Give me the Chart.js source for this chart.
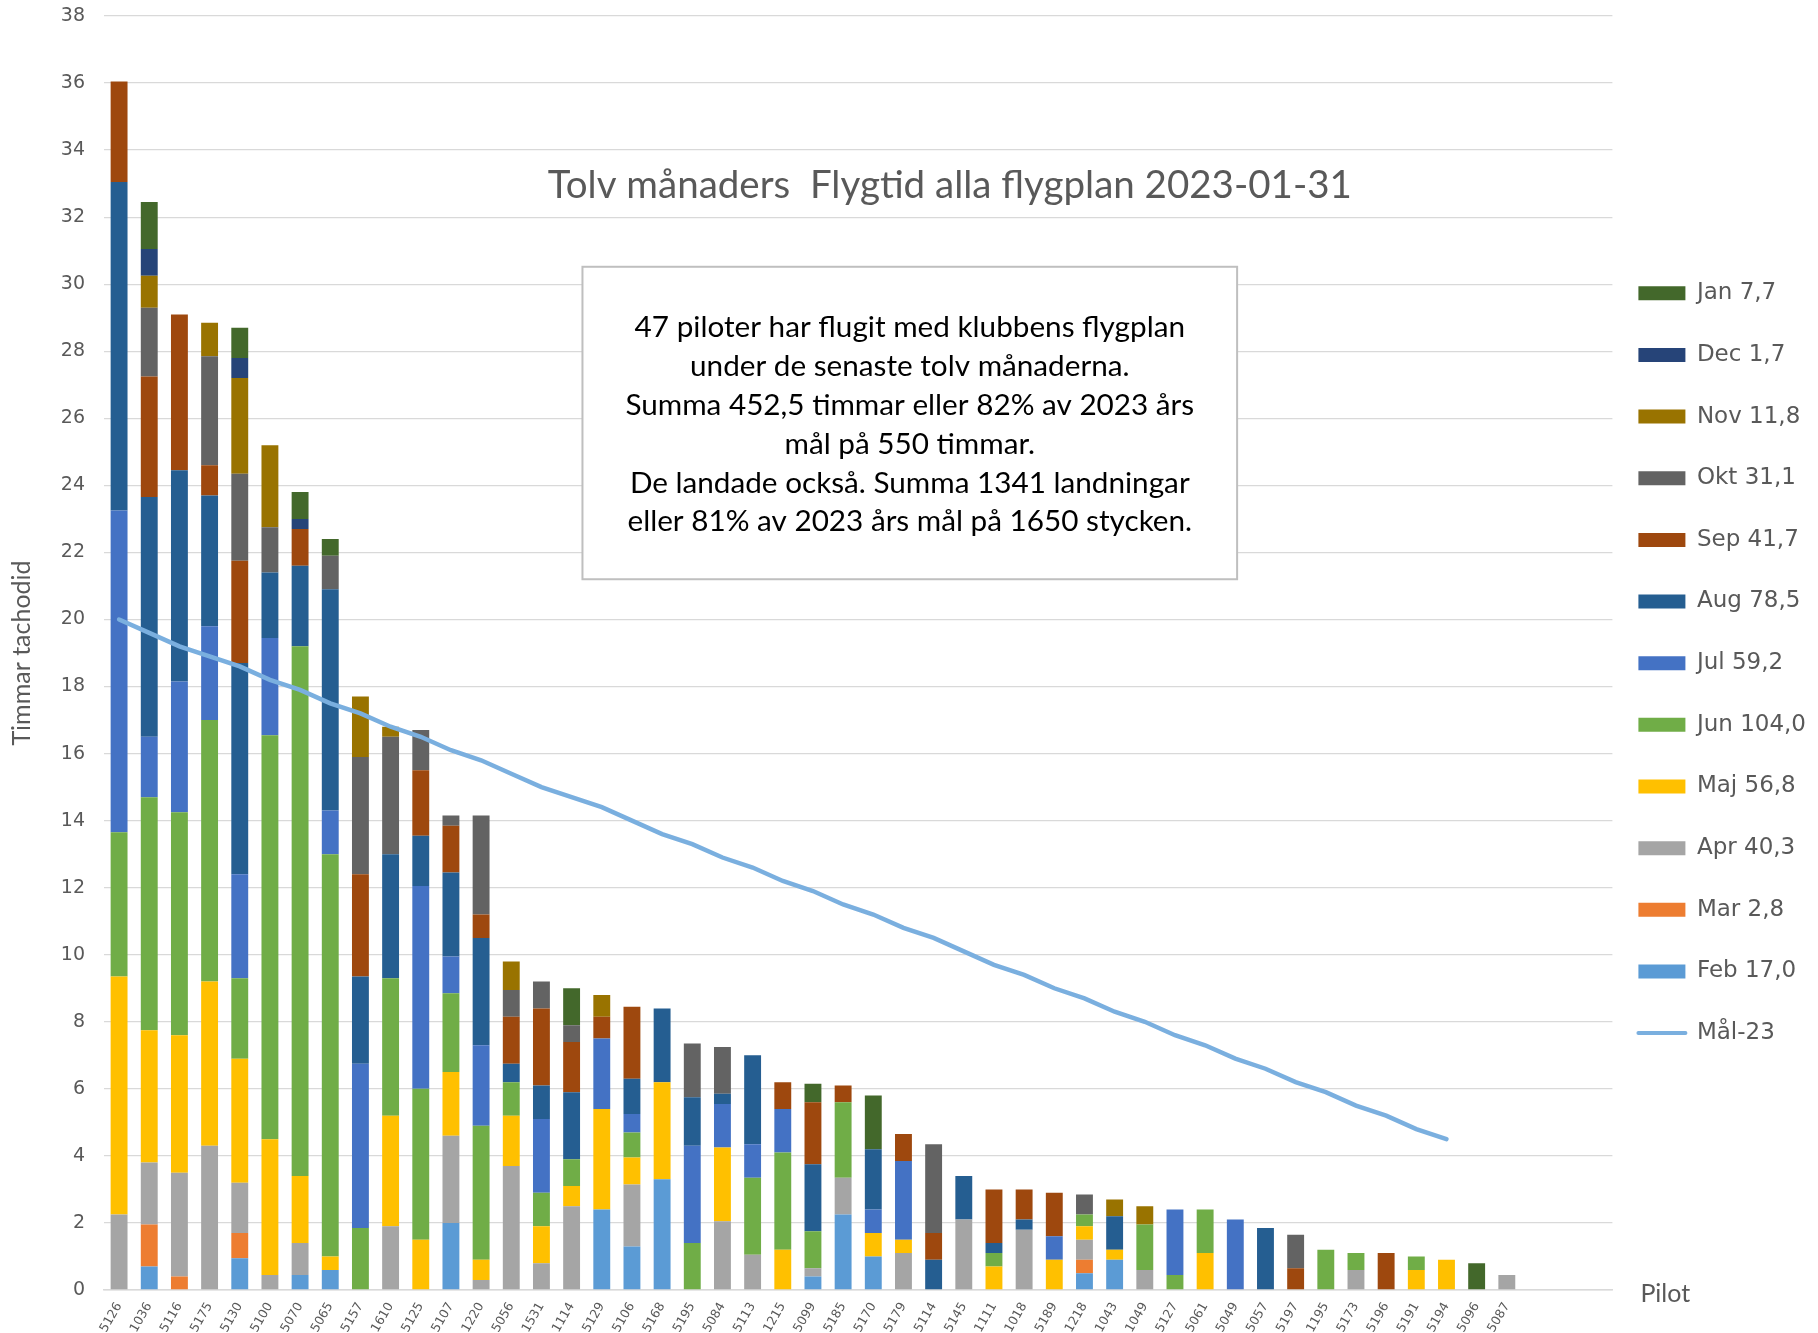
<!DOCTYPE html>
<html>
<head>
<meta charset="utf-8">
<script src="https://cdn.jsdelivr.net/npm/chart.js@4.4.1/dist/chart.umd.min.js"></script>
<style>
  body { margin: 0; background: #fff; }
  #wrap { width: 1818px; height: 1333px; }
</style>
</head>
<body>
<div id="wrap"><canvas id="flygtid"></canvas></div>
<script>
// pilots sorted by total hours, last three rows are empty in the sheet
const pilots = ['5126', '1036', '5116', '5175', '5130', '5100', '5070', '5065', '5157', '1610',
	'5125', '5107', '1220', '5056', '1531', '1114', '5129', '5106', '5168', '5195',
	'5084', '5113', '1215', '5099', '5185', '5170', '5179', '5114', '5145', '1111',
	'1018', '5189', '1218', '1043', '1049', '5127', '5061', '5049', '5057', '5197',
	'1195', '5173', '5196', '5191', '5194', '5096', '5087', '', '', ''];

const monthLabels = ['Feb 17,0', 'Mar 2,8', 'Apr 40,3', 'Maj 56,8', 'Jun 104,0', 'Jul 59,2',
	'Aug 78,5', 'Sep 41,7', 'Okt 31,1', 'Nov 11,8', 'Dec 1,7', 'Jan 7,7'];

// hours per pilot and month (tachometer)
const feb = [0, 0.7, 0, 0, 0.95, 0, 0.45, 0.6, 0, 0, 0, 2.0, 0, 0, 0, 0, 2.4, 1.3, 3.3, 0,
	0, 0, 0, 0.4, 2.25, 1.0, 0, 0, 0, 0, 0, 0, 0.5, 0.9, 0, 0, 0, 0, 0, 0, 0, 0, 0, 0, 0, 0, 0];
const mar = [0, 1.25, 0.4, 0, 0.75, 0, 0, 0, 0, 0, 0, 0, 0, 0, 0, 0, 0, 0, 0, 0,
	0, 0, 0, 0, 0, 0, 0, 0, 0, 0, 0, 0, 0.4, 0, 0, 0, 0, 0, 0, 0, 0, 0, 0, 0, 0, 0, 0];
const apr = [2.25, 1.85, 3.1, 4.3, 1.5, 0.45, 0.95, 0, 0, 1.9, 0, 2.6, 0.3, 3.7, 0.8, 2.5, 0, 1.85, 0, 0,
	2.05, 1.05, 0, 0.25, 1.1, 0, 1.1, 0, 2.1, 0, 1.8, 0, 0.6, 0, 0.6, 0, 0, 0, 0, 0, 0, 0.6, 0, 0, 0, 0, 0.45];
const maj = [7.1, 3.95, 4.1, 4.9, 3.7, 4.05, 2.0, 0.4, 0, 3.3, 1.5, 1.9, 0.6, 1.5, 1.1, 0.6, 3.0, 0.8, 2.9, 0,
	2.2, 0, 1.2, 0, 0, 0.7, 0.4, 0, 0, 0.7, 0, 0.9, 0.4, 0.3, 0, 0, 1.1, 0, 0, 0, 0, 0, 0, 0.6, 0.9, 0, 0];
const jun = [4.3, 6.95, 6.65, 7.8, 2.4, 12.05, 15.8, 12.0, 1.85, 4.1, 4.5, 2.35, 4.0, 1.0, 1.0, 0.8, 0, 0.75, 0, 1.4,
	0, 2.3, 2.9, 1.1, 2.25, 0, 0, 0, 0, 0.4, 0, 0, 0.35, 0, 1.35, 0.45, 1.3, 0, 0, 0, 1.2, 0.5, 0, 0.4, 0, 0, 0];
const jul = [9.6, 1.8, 3.9, 2.8, 3.1, 2.9, 0, 1.3, 4.9, 0, 6.05, 1.1, 2.4, 0, 2.2, 0, 2.1, 0.55, 0, 2.9,
	1.3, 1.0, 1.3, 0, 0, 0.7, 2.35, 0, 0, 0, 0, 0.7, 0, 0, 0, 1.95, 0, 2.1, 0, 0, 0, 0, 0, 0, 0, 0, 0];
const aug = [9.8, 7.15, 6.3, 3.9, 6.3, 1.95, 2.4, 6.6, 2.6, 3.7, 1.5, 2.5, 3.2, 0.55, 1.0, 2.0, 0, 1.05, 2.2, 1.45,
	0.3, 2.65, 0, 2.0, 0, 1.8, 0, 0.9, 1.3, 0.3, 0.3, 0, 0, 1.0, 0, 0, 0, 0, 1.85, 0, 0, 0, 0, 0, 0, 0, 0];
const sep = [3.0, 3.6, 4.65, 0.9, 3.05, 0, 1.1, 0, 3.05, 0, 1.95, 1.4, 0.7, 1.4, 2.3, 1.5, 0.65, 2.15, 0, 0,
	0, 0, 0.8, 1.85, 0.5, 0, 0.8, 0.8, 0, 1.6, 0.9, 1.3, 0, 0, 0, 0, 0, 0, 0, 0.65, 0, 0, 1.1, 0, 0, 0, 0];
const okt = [0, 2.05, 0, 3.25, 2.6, 1.35, 0, 1.0, 3.5, 3.5, 1.2, 0.3, 2.95, 0.8, 0.8, 0.5, 0, 0, 0, 1.6,
	1.4, 0, 0, 0, 0, 0, 0, 2.65, 0, 0, 0, 0, 0.6, 0, 0, 0, 0, 0, 0, 1.0, 0, 0, 0, 0, 0, 0, 0];
const nov = [0, 0.95, 0, 1.0, 2.85, 2.45, 0, 0, 1.8, 0.3, 0, 0, 0, 0.85, 0, 0, 0.65, 0, 0, 0,
	0, 0, 0, 0, 0, 0, 0, 0, 0, 0, 0, 0, 0, 0.5, 0.55, 0, 0, 0, 0, 0, 0, 0, 0, 0, 0, 0, 0];
const dec = [0, 0.8, 0, 0, 0.6, 0, 0.3, 0, 0, 0, 0, 0, 0, 0, 0, 0, 0, 0, 0, 0,
	0, 0, 0, 0, 0, 0, 0, 0, 0, 0, 0, 0, 0, 0, 0, 0, 0, 0, 0, 0, 0, 0, 0, 0, 0, 0, 0];
const jan = [0, 1.4, 0, 0, 0.9, 0, 0.8, 0.5, 0, 0, 0, 0, 0, 0, 0, 1.1, 0, 0, 0, 0,
	0, 0, 0, 0.55, 0, 1.6, 0, 0, 0, 0, 0, 0, 0, 0, 0, 0, 0, 0, 0, 0, 0, 0, 0, 0, 0, 0.8, 0];

// Mål-23 per pilot
const goal = [20.0, 19.6, 19.2, 18.9, 18.6, 18.2, 17.9, 17.5, 17.2, 16.8,
	16.5, 16.1, 15.8, 15.4, 15.0, 14.7, 14.4, 14.0, 13.6, 13.3,
	12.9, 12.6, 12.2, 11.9, 11.5, 11.2, 10.8, 10.5, 10.1, 9.7,
	9.4, 9.0, 8.7, 8.3, 8.0, 7.6, 7.3, 6.9, 6.6, 6.2,
	5.9, 5.5, 5.2, 4.8, 4.5];

const yTicksMax = 38;

const chartTitle = 'Tolv månaders  Flygtid alla flygplan 2023-01-31';
const noteLines = [
	'47 piloter har flugit med klubbens flygplan',
	'under de senaste tolv månaderna.',
	'Summa 452,5 timmar eller 82% av 2023 års',
	'mål på 550 timmar.',
	'De landade också. Summa 1341 landningar',
	'eller 81% av 2023 års mål på 1650 stycken.',
];

const monthColors = ['#5B9BD5', '#ED7D31', '#A5A5A5', '#FFC000', '#70AD47', '#4472C4',
	'#255E91', '#9E480E', '#636363', '#997300', '#264478', '#43682B'];
const goalColor = '#7AAFDF';
const textGray = '#595959';
const calibriLike = 'Lato, "Open Sans", sans-serif';

const monthSeries = [feb, mar, apr, maj, jun, jul, aug, sep, okt, nov, dec, jan];

// title, text box and the "Pilot" axis caption sit inside the plot
const notes = {
	id: 'notes',
	afterLayout(chart) {
		// legend column sits a little higher than a centred one
		chart.legend.top -= 5;
		chart.legend.bottom -= 5;
	},
	afterDatasetsDraw(chart) {
		const { ctx, chartArea: a, scales: { y } } = chart;
		const w = a.right - a.left;
		ctx.save();

		ctx.fillStyle = textGray;
		ctx.font = `38.5px ${calibriLike}`;
		ctx.textAlign = 'center';
		ctx.textBaseline = 'middle';
		ctx.fillText(chartTitle, a.left + w * 0.5607, y.getPixelForValue(32.95));

		const bx = a.left + w * 0.3172;
		const bw = w * 0.434;
		const by = y.getPixelForValue(30.52);
		const bh = y.getPixelForValue(21.2) - by;
		ctx.fillStyle = '#fff';
		ctx.fillRect(bx, by, bw, bh);
		ctx.strokeStyle = '#BFBFBF';
		ctx.lineWidth = 2;
		ctx.strokeRect(bx, by, bw, bh);

		ctx.fillStyle = '#000';
		ctx.font = `29.7px ${calibriLike}`;
		noteLines.forEach((line, i) => {
			ctx.fillText(line, bx + bw / 2, by + 61 + i * 38.8);
		});

		ctx.fillStyle = textGray;
		ctx.font = `25px ${calibriLike}`;
		ctx.textAlign = 'left';
		ctx.fillText('Pilot', a.right + 28, a.bottom + 4);
		ctx.restore();
	},
};

Chart.defaults.font.family = '"DejaVu Sans", sans-serif';
Chart.defaults.color = textGray;

const datasets = monthSeries.map((data, i) => ({
	label: monthLabels[i],
	data,
	backgroundColor: monthColors[i],
	borderWidth: 0,
	stack: 'hours',
	order: 1,
	barPercentage: 0.56,
	categoryPercentage: 1,
}));
datasets.push({
	type: 'line',
	label: 'Mål-23',
	data: goal,
	borderColor: goalColor,
	backgroundColor: goalColor,
	borderWidth: 4.5,
	borderCapStyle: 'round',
	pointRadius: 0,
	tension: 0,
	fill: false,
	stack: 'goal',
	order: 0,
});

const legendRank = (item) => (item.datasetIndex === 12 ? 99 : 11 - item.datasetIndex);

new Chart('flygtid', {
	type: 'bar',
	data: { labels: pilots, datasets },
	plugins: [notes],
	options: {
		responsive: true,
		maintainAspectRatio: false,
		animation: false,
		layout: { padding: { top: 16, right: 2, left: 0, bottom: 0 } },
		scales: {
			x: {
				stacked: true,
				grid: { display: false },
				border: { display: true, color: '#D9D9D9', width: 1.5 },
				ticks: {
					autoSkip: false,
					minRotation: 60,
					maxRotation: 60,
					padding: 2,
					font: { size: 12.5 },
				},
				afterFit: (scale) => { scale.height = 43; },
			},
			y: {
				stacked: true,
				min: 0,
				max: yTicksMax,
				border: { display: false },
				grid: { color: '#D9D9D9', lineWidth: 1.3, drawTicks: false },
				ticks: { stepSize: 2, padding: 19, font: { size: 19 } },
				title: {
					display: true,
					text: 'Timmar tachodid',
					color: textGray,
					font: { family: calibriLike, size: 25 },
					padding: { top: 7, bottom: 0 },
				},
				afterFit: (scale) => {
					scale.width = 104;
					scale.paddingTop = 0;
					scale.paddingBottom = 0;
				},
			},
		},
		plugins: {
			tooltip: { enabled: false },
			legend: {
				position: 'right',
				labels: {
					usePointStyle: true,
					pointStyleWidth: 47,
					boxHeight: 14,
					padding: 26,
					color: textGray,
					font: { size: 23, lineHeight: 1.55 },
					sort: (a, b) => legendRank(a) - legendRank(b),
					generateLabels(chart) {
						const items = Chart.defaults.plugins.legend.labels.generateLabels(chart);
						return items.map((item) => {
							const isLine = chart.data.datasets[item.datasetIndex].type === 'line';
							return {
								...item,
								text: [item.text],
								pointStyle: isLine ? 'line' : 'rect',
								lineWidth: isLine ? 4 : 0,
								lineCap: 'round',
								strokeStyle: isLine ? goalColor : item.fillStyle,
							};
						});
					},
				},
			},
		},
	},
});
</script>
</body>
</html>
